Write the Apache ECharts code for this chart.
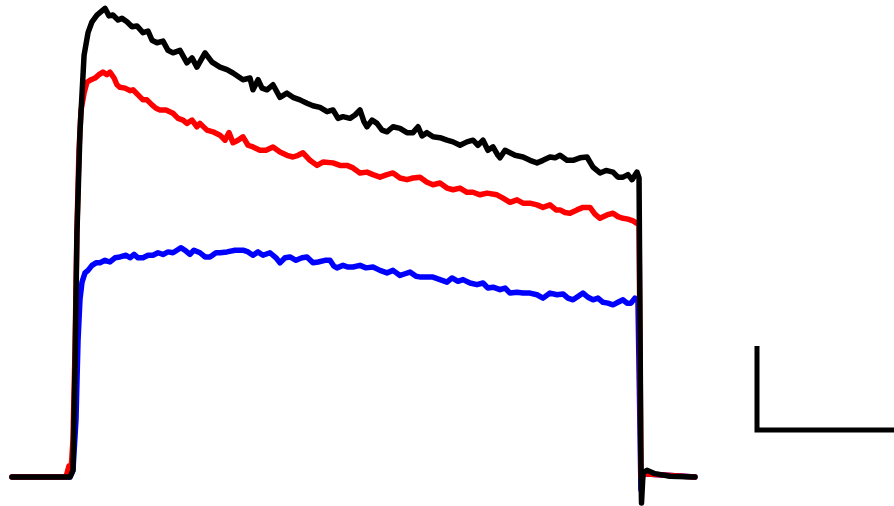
<!DOCTYPE html>
<html>
<head>
<meta charset="utf-8">
<script src="https://cdn.jsdelivr.net/npm/echarts@6/dist/echarts.min.js"></script>
<style>
  html, body { margin: 0; padding: 0; background: #fff; }
  #chart { width: 894px; height: 506px; }
</style>
</head>
<body>
<div id="chart"></div>
<script>
// Whole-cell current traces (time in ms, current in nA) for three conditions.
const blackTime = [0, 42.3, 44.5, 46.0, 47.4, 49.6, 52.6, 55.5, 58.4, 62.0, 65.0, 67.9, 70.8, 73.7, 77.4, 80.3, 83.9, 87.6, 91.2, 95.6, 99.3, 102.2, 105.8, 110.2, 113.9, 117.5, 122.6, 127.7, 131.4, 135.0, 140.9, 146.0, 151.8, 156.9, 161.3, 168.6, 173.7, 175.9, 179.6, 182.5, 186.1, 190.5, 195.6, 200.7, 205.1, 210.2, 215.3, 219.7, 224.8, 230.0, 234.3, 238.0, 241.6, 246.7, 250.4, 254.0, 256.9, 259.1, 262.8, 266.4, 270.1, 273.7, 278.1, 283.2, 288.3, 292.7, 296.4, 299.3, 302.9, 307.3, 312.4, 317.5, 321.9, 327.0, 332.1, 336.5, 340.1, 343.8, 347.4, 351.1, 354.7, 356.2, 359.9, 363.5, 367.2, 373.0, 378.1, 383.2, 387.6, 392.7, 396.4, 400.0, 405.1, 409.5, 414.6, 419.7, 424.1, 429.2, 433.6, 438.7, 442.3, 446.0, 449.6, 452.6, 456.2, 457.7, 458.4, 459.1, 459.5, 460.6, 463.5, 469.3, 480.3, 498.5];
const black = [0, 0, 0.08, 1.31, 2.90, 4.10, 5.02, 5.29, 5.42, 5.50, 5.54, 5.58, 5.49, 5.50, 5.44, 5.46, 5.42, 5.36, 5.37, 5.29, 5.31, 5.20, 5.17, 5.19, 5.08, 5.05, 5.08, 4.93, 4.99, 4.88, 5.05, 4.94, 4.88, 4.85, 4.81, 4.73, 4.75, 4.61, 4.73, 4.63, 4.61, 4.67, 4.52, 4.57, 4.52, 4.49, 4.45, 4.42, 4.40, 4.35, 4.37, 4.27, 4.29, 4.27, 4.31, 4.37, 4.23, 4.17, 4.25, 4.21, 4.13, 4.11, 4.17, 4.15, 4.10, 4.10, 4.17, 4.06, 4.10, 4.05, 4.04, 4.01, 3.99, 3.95, 3.99, 4.01, 3.95, 4.01, 3.89, 3.93, 3.83, 3.80, 3.89, 3.86, 3.83, 3.81, 3.77, 3.74, 3.77, 3.81, 3.80, 3.83, 3.77, 3.77, 3.80, 3.81, 3.69, 3.62, 3.65, 3.63, 3.57, 3.57, 3.60, 3.54, 3.63, 3.56, 3.54, 0.08, -0.31, 0.05, 0.08, 0.04, 0.01, 0];

const redTime = [0, 39.4, 41.6, 43.1, 44.5, 46.0, 47.4, 48.9, 50.4, 52.6, 54.7, 57.7, 60.6, 63.5, 66.4, 69.3, 71.5, 74.5, 76.6, 78.8, 82.5, 86.1, 88.3, 92.0, 95.6, 98.5, 102.2, 105.1, 108.0, 112.4, 117.5, 121.2, 124.8, 127.7, 131.4, 135.0, 137.2, 142.3, 146.7, 151.8, 155.5, 158.4, 161.3, 165.0, 168.6, 172.3, 175.9, 181.0, 185.4, 190.5, 195.6, 200.7, 205.1, 208.8, 212.4, 217.5, 222.6, 227.0, 234.3, 239.4, 244.5, 248.9, 254.0, 259.1, 263.5, 268.6, 273.7, 278.1, 283.2, 288.3, 292.7, 297.8, 302.9, 307.3, 312.4, 317.5, 321.9, 327.0, 332.1, 336.5, 341.6, 346.7, 354.0, 358.4, 363.5, 368.6, 373.0, 378.1, 383.2, 387.6, 392.7, 397.1, 400.0, 403.6, 407.3, 412.4, 416.8, 421.9, 425.5, 429.2, 434.3, 438.7, 442.3, 446.0, 449.6, 453.3, 456.2, 457.7, 459.1, 460.6, 498.5];
const red = [0, 0, 0.13, 0.08, 0.44, 1.51, 2.94, 3.89, 4.37, 4.57, 4.70, 4.73, 4.75, 4.79, 4.82, 4.79, 4.82, 4.75, 4.67, 4.64, 4.63, 4.60, 4.61, 4.55, 4.49, 4.49, 4.43, 4.39, 4.37, 4.37, 4.33, 4.27, 4.25, 4.21, 4.25, 4.17, 4.21, 4.13, 4.11, 4.07, 4.01, 4.10, 3.98, 4.01, 4.05, 3.95, 3.93, 3.89, 3.89, 3.93, 3.87, 3.83, 3.81, 3.83, 3.86, 3.77, 3.71, 3.75, 3.74, 3.71, 3.71, 3.68, 3.62, 3.63, 3.60, 3.57, 3.60, 3.62, 3.56, 3.54, 3.56, 3.57, 3.51, 3.48, 3.50, 3.44, 3.42, 3.44, 3.39, 3.39, 3.36, 3.38, 3.36, 3.32, 3.27, 3.30, 3.26, 3.26, 3.24, 3.21, 3.24, 3.18, 3.18, 3.15, 3.14, 3.18, 3.21, 3.21, 3.13, 3.08, 3.12, 3.14, 3.10, 3.08, 3.07, 3.05, 3.02, 3.01, 0, 0.04, 0];

const blueTime = [0, 42.3, 44.5, 46.7, 48.2, 49.6, 51.1, 53.3, 55.5, 58.4, 61.3, 64.2, 67.9, 71.5, 75.2, 78.8, 83.2, 86.1, 89.1, 92.0, 95.6, 99.3, 102.9, 106.6, 110.2, 113.9, 117.5, 120.4, 123.4, 127.0, 129.9, 132.8, 137.2, 140.9, 144.5, 148.9, 151.8, 156.9, 162.8, 168.6, 172.3, 175.9, 179.6, 183.2, 188.3, 192.7, 195.6, 199.3, 202.9, 207.3, 211.7, 215.3, 219.7, 223.4, 228.5, 232.1, 235.0, 237.2, 241.6, 245.3, 248.9, 254.0, 258.4, 263.5, 268.6, 273.7, 278.1, 283.2, 286.9, 290.5, 294.9, 298.5, 302.9, 307.3, 312.4, 317.5, 321.2, 325.5, 329.2, 334.3, 339.4, 343.8, 347.4, 351.1, 356.2, 359.9, 363.5, 368.6, 373.0, 378.1, 383.2, 387.6, 392.7, 397.8, 402.2, 405.8, 409.5, 413.1, 416.8, 420.4, 424.1, 427.7, 431.4, 435.0, 438.7, 442.3, 446.0, 448.9, 451.8, 454.7, 456.9, 459.1, 460.6, 498.5];
const blue = [0, 0, 0.08, 0.68, 1.63, 2.11, 2.32, 2.43, 2.46, 2.52, 2.55, 2.55, 2.58, 2.56, 2.61, 2.62, 2.64, 2.61, 2.65, 2.61, 2.61, 2.64, 2.64, 2.67, 2.65, 2.68, 2.67, 2.70, 2.73, 2.69, 2.65, 2.70, 2.67, 2.62, 2.62, 2.67, 2.67, 2.68, 2.70, 2.70, 2.68, 2.64, 2.68, 2.64, 2.67, 2.61, 2.55, 2.61, 2.62, 2.58, 2.61, 2.62, 2.55, 2.56, 2.58, 2.58, 2.51, 2.49, 2.52, 2.50, 2.50, 2.52, 2.49, 2.50, 2.46, 2.43, 2.46, 2.40, 2.42, 2.44, 2.39, 2.38, 2.38, 2.38, 2.35, 2.32, 2.37, 2.33, 2.35, 2.31, 2.29, 2.31, 2.25, 2.26, 2.23, 2.25, 2.19, 2.20, 2.19, 2.19, 2.17, 2.13, 2.19, 2.17, 2.18, 2.13, 2.11, 2.15, 2.19, 2.14, 2.11, 2.13, 2.08, 2.07, 2.05, 2.08, 2.11, 2.07, 2.07, 2.13, 2.11, -0.15, 0.04, 0];

// Calibration bar: 100 ms horizontal, 1 nA vertical
const scaleTime = [543.8, 543.8, 643.8];
const scaleCurrent = [1.56, 0.56, 0.56];

const pairs = (xs, ys) => xs.map((x, i) => [x, ys[i]]);

const traceStyle = (color) => ({
  type: 'line',
  showSymbol: false,
  smooth: false,
  clip: false,
  lineStyle: { color: color, width: 5.5, join: 'round', cap: 'round' },
  itemStyle: { color: color }
});

const chart = echarts.init(document.getElementById('chart'), null, { renderer: 'canvas' });
chart.setOption({
  animation: false,
  backgroundColor: '#ffffff',
  grid: { left: 0, right: 0, top: 0, bottom: 0 },
  xAxis: { type: 'value', min: -8.76, max: 643.8, show: false },
  yAxis: { type: 'value', min: -0.345, max: 5.679, show: false },
  series: [
    Object.assign(traceStyle('#0000ff'), { name: 'blue', data: pairs(blueTime, blue) }),
    Object.assign(traceStyle('#ff0000'), { name: 'red', data: pairs(redTime, red) }),
    Object.assign(traceStyle('#000000'), { name: 'black', data: pairs(blackTime, black) }),
    {
      type: 'line', name: 'scale', showSymbol: false, clip: false,
      lineStyle: { color: '#000000', width: 5, join: 'miter', cap: 'butt' },
      data: pairs(scaleTime, scaleCurrent)
    }
  ]
});
</script>
</body>
</html>
